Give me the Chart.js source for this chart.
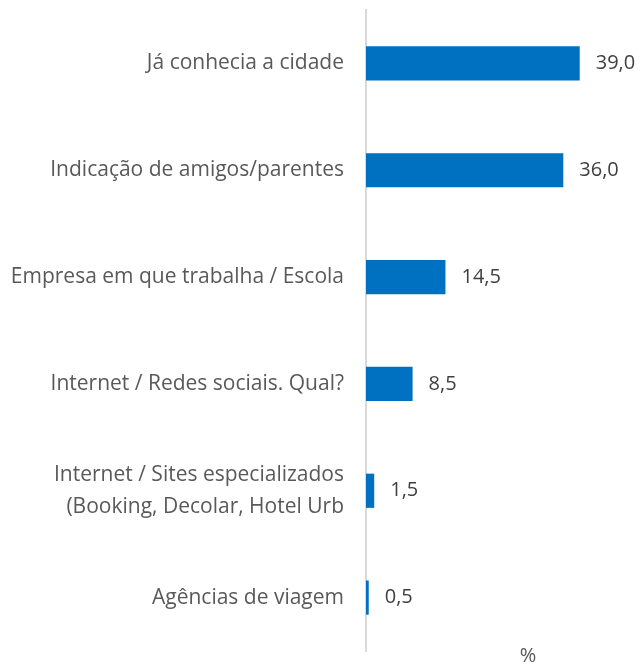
<!DOCTYPE html>
<html lang="pt-BR">
<head>
    <meta charset="UTF-8">
    <title>Motivo da escolha</title>
    <script src="https://cdn.jsdelivr.net/npm/chart.js"></script>
    <style>
        html, body {
            margin: 0;
            padding: 0;
            background: #fff;
        }
        .chart-box {
            width: 640px;
            height: 666px;
        }
    </style>
</head>
<body>
    <div class="chart-box">
        <canvas id="myChart"></canvas>
    </div>

    <script>
        const categories = [
            'Já conhecia a cidade',
            'Indicação de amigos/parentes',
            'Empresa em que trabalha / Escola',
            'Internet / Redes sociais. Qual?',
            ['Internet / Sites especializados', '(Booking, Decolar, Hotel Urb'],
            'Agências de viagem'
        ];
        const values = [39.0, 36.0, 14.5, 8.5, 1.5, 0.5];
        const unitLabel = '%';

        const fontFamily = '"Open Sans", "Noto Sans", sans-serif';

        // rótulos de valor no fim de cada barra + o "%" embaixo
        const valueLabels = {
            id: 'valueLabels',
            afterDatasetsDraw(chart) {
                const ctx = chart.ctx;
                const meta = chart.getDatasetMeta(0);
                ctx.save();
                ctx.font = '20px ' + fontFamily;
                ctx.fillStyle = '#404040';
                ctx.textAlign = 'left';
                ctx.textBaseline = 'middle';
                meta.data.forEach(function(bar, i) {
                    const txt = values[i].toFixed(1).replace('.', ',');
                    ctx.fillText(txt, bar.x + 16, bar.y);
                });
                ctx.fillStyle = '#595959';
                ctx.textAlign = 'center';
                ctx.fillText(unitLabel, 528, 656);
                ctx.restore();
            }
        };

        const ctx = document.getElementById('myChart').getContext('2d');
        new Chart(ctx, {
            type: 'bar',
            data: {
                labels: categories,
                datasets: [{
                    data: values,
                    backgroundColor: '#0070c0',
                    borderWidth: 0,
                    categoryPercentage: 1,
                    barPercentage: 0.32
                }]
            },
            options: {
                indexAxis: 'y',
                responsive: true,
                maintainAspectRatio: false,
                animation: false,
                layout: {
                    padding: { top: 10, bottom: 15, left: 0, right: 0 }
                },
                scales: {
                    x: {
                        display: false,
                        min: 0,
                        max: 50
                    },
                    y: {
                        grid: { display: false, drawTicks: true, tickLength: 22 },
                        border: { display: true, color: '#d9d9d9', width: 2 },
                        afterFit: function(scale) {
                            scale.width = 366;
                            scale.paddingTop = 0;
                            scale.paddingBottom = 0;
                        },
                        ticks: {
                            color: '#595959',
                            padding: 0,
                            font: { family: fontFamily, size: 21, lineHeight: 1.52 }
                        }
                    }
                },
                plugins: {
                    legend: { display: false },
                    tooltip: { enabled: false }
                }
            },
            plugins: [valueLabels]
        });
    </script>
</body>
</html>
